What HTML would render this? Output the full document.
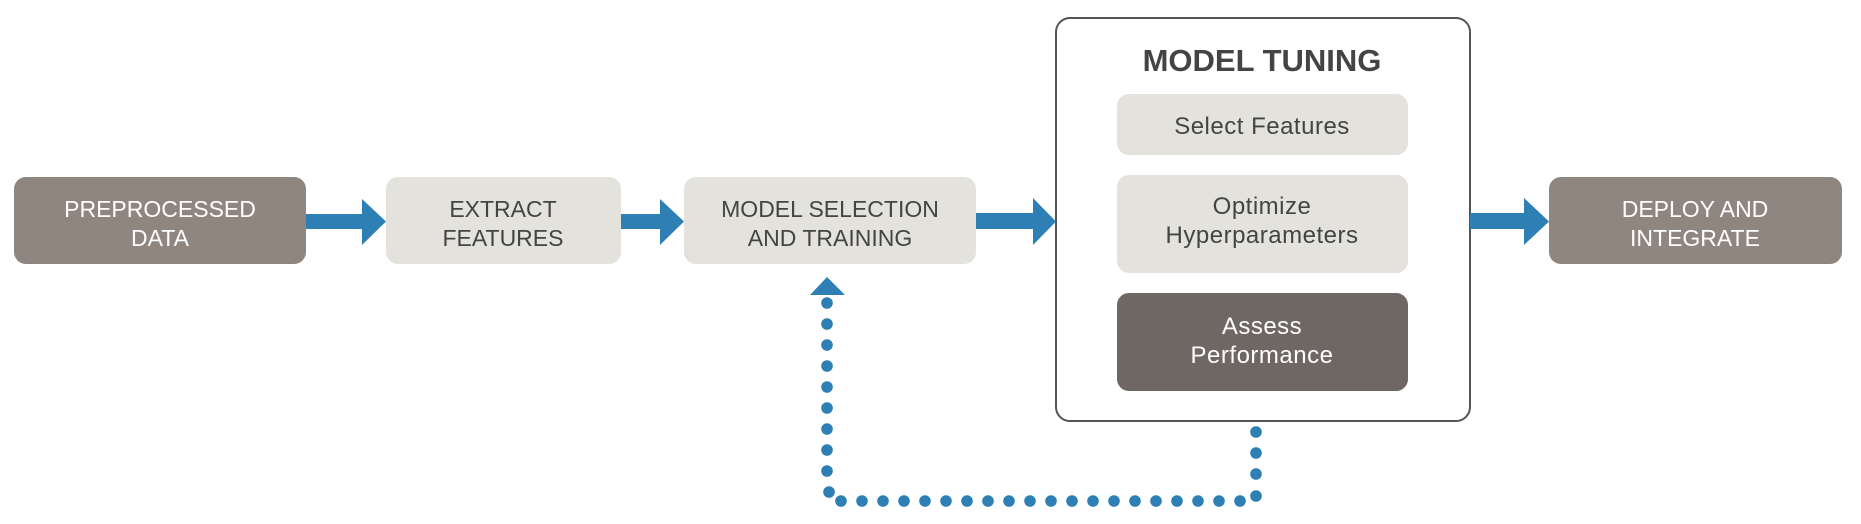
<!DOCTYPE html>
<html><head><meta charset="utf-8"><style>
html,body{margin:0;padding:0;background:#fff;}
svg{display:block;}
text{font-family:"Liberation Sans",sans-serif;}
</style></head><body>
<svg width="1861" height="524" viewBox="0 0 1861 524" xmlns="http://www.w3.org/2000/svg">
<rect x="14" y="177" width="292" height="87" rx="12" fill="#8f8680"/>
<rect x="386" y="177" width="235" height="87" rx="12" fill="#e3e2dd"/>
<rect x="684" y="177" width="292" height="87" rx="12" fill="#e3e2dd"/>
<rect x="1549" y="177" width="293" height="87" rx="12" fill="#8f8680"/>
<rect x="1056" y="18" width="414" height="403" rx="14" fill="#fff" stroke="#555" stroke-width="2"/>
<rect x="1117" y="94" width="291" height="61" rx="12" fill="#e3e2dd"/>
<rect x="1117" y="175" width="291" height="98" rx="12" fill="#e3e2dd"/>
<rect x="1117" y="293" width="291" height="98" rx="12" fill="#6e6763"/>
<g fill="#2e7fb4">
<rect x="306" y="214" width="58" height="15"/><polygon points="362,199 386,221.5 362,245"/>
<rect x="621" y="214" width="42" height="15"/><polygon points="660,199 684,221.5 660,245"/>
<rect x="976" y="213" width="60" height="16"/><polygon points="1033,198 1056,221.5 1033,245"/>
<rect x="1470" y="213" width="58" height="16"/><polygon points="1524,198 1549,221.5 1524,245"/>
<polygon points="810,295 827,277 845,295"/>
</g>
<g fill="#2e7fb4">
<circle cx="827" cy="303" r="5.8"/><circle cx="827" cy="324" r="5.8"/><circle cx="827" cy="345" r="5.8"/><circle cx="827" cy="366" r="5.8"/><circle cx="827" cy="387" r="5.8"/><circle cx="827" cy="408" r="5.8"/><circle cx="827" cy="429" r="5.8"/><circle cx="827" cy="450" r="5.8"/><circle cx="827" cy="471" r="5.8"/><circle cx="829" cy="492" r="5.8"/>
<circle cx="841" cy="501" r="5.8"/><circle cx="862" cy="501" r="5.8"/><circle cx="883" cy="501" r="5.8"/><circle cx="904" cy="501" r="5.8"/><circle cx="925" cy="501" r="5.8"/><circle cx="946" cy="501" r="5.8"/><circle cx="967" cy="501" r="5.8"/><circle cx="988" cy="501" r="5.8"/><circle cx="1009" cy="501" r="5.8"/><circle cx="1030" cy="501" r="5.8"/><circle cx="1051" cy="501" r="5.8"/><circle cx="1072" cy="501" r="5.8"/><circle cx="1093" cy="501" r="5.8"/><circle cx="1114" cy="501" r="5.8"/><circle cx="1135" cy="501" r="5.8"/><circle cx="1156" cy="501" r="5.8"/><circle cx="1177" cy="501" r="5.8"/><circle cx="1198" cy="501" r="5.8"/><circle cx="1219" cy="501" r="5.8"/><circle cx="1240" cy="501" r="5.8"/>
<circle cx="1256" cy="496" r="5.8"/><circle cx="1256" cy="474" r="5.8"/><circle cx="1256" cy="453" r="5.8"/><circle cx="1256" cy="432" r="5.8"/>
</g>
<g font-size="23" text-anchor="middle">
<text x="160" y="217" fill="#fff">PREPROCESSED</text><text x="160" y="246" fill="#fff">DATA</text>
<text x="503" y="217" fill="#444">EXTRACT</text><text x="503" y="246" fill="#444">FEATURES</text>
<text x="830" y="217" fill="#444">MODEL SELECTION</text><text x="830" y="246" fill="#444">AND TRAINING</text>
<text x="1695" y="217" fill="#fff">DEPLOY AND</text><text x="1695" y="246" fill="#fff">INTEGRATE</text>
</g>
<text x="1262" y="71" font-size="31" font-weight="bold" text-anchor="middle" fill="#444">MODEL TUNING</text>
<g font-size="24" text-anchor="middle" letter-spacing="0.5">
<text x="1262" y="134" fill="#444">Select Features</text>
<text x="1262" y="214" fill="#444">Optimize</text><text x="1262" y="243" fill="#444">Hyperparameters</text>
<text x="1262" y="334" fill="#fff">Assess</text><text x="1262" y="363" fill="#fff">Performance</text>
</g>
</svg>
</body></html>
